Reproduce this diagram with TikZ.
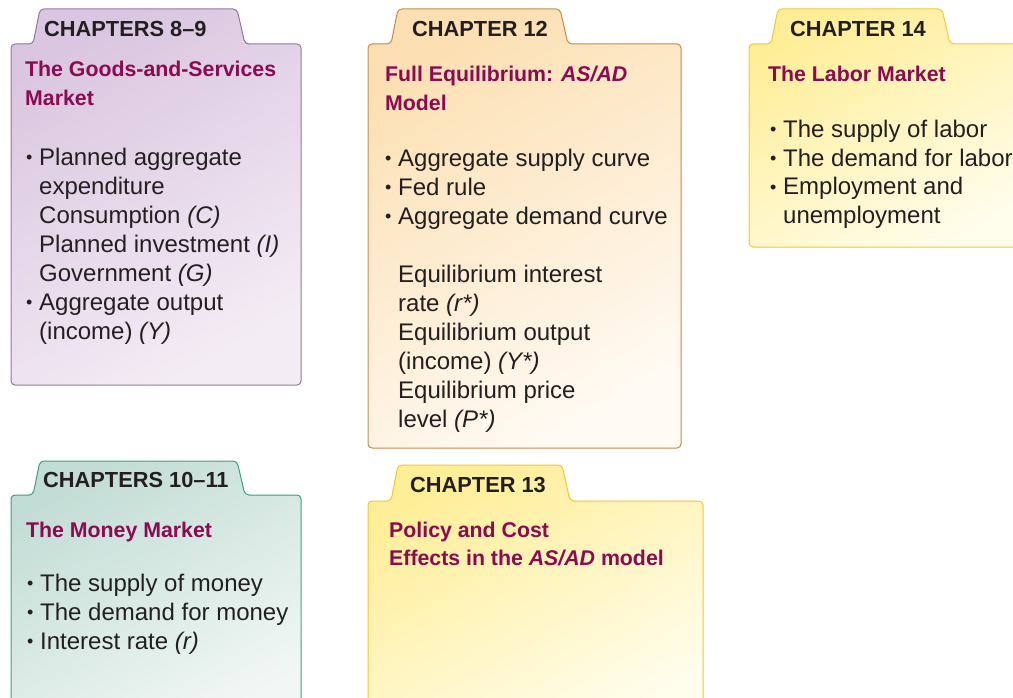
\documentclass[tikz,border=0pt]{standalone}
\usepackage{fontspec}
\setmainfont{Liberation Sans}
\usetikzlibrary{positioning}

\definecolor{titlered}{HTML}{8C0A52}
\definecolor{inkgrey}{HTML}{231F20}
\definecolor{purpleedge}{HTML}{8D7B9E}
\definecolor{purpletop}{HTML}{DAC6E0}
\definecolor{purplebot}{HTML}{F4ECF5}
\definecolor{orangeedge}{HTML}{C68A4B}
\definecolor{orangetop}{HTML}{FCE0B3}
\definecolor{orangebot}{HTML}{FFFAF3}
\definecolor{yellowedge}{HTML}{F4C633}
\definecolor{yellowtop}{HTML}{FFEE98}
\definecolor{yellowbot}{HTML}{FFFDEC}
\definecolor{tealedge}{HTML}{3E9E88}
\definecolor{tealtop}{HTML}{C2DDD5}
\definecolor{tealbot}{HTML}{F2F7F5}

\newcommand{\bul}{\makebox[13pt][l]{\raisebox{1.5pt}{\fontsize{18}{18}\selectfont\textbullet}}}
\newcommand{\ind}{\hspace*{13pt}}

\tikzset{
  folder/.style={line width=1pt, rounded corners=4pt},
  purplefolder/.style={folder, draw=purpleedge, top color=purpletop, bottom color=purplebot, shading angle=30},
  orangefolder/.style={folder, draw=orangeedge, top color=orangetop, bottom color=orangebot, shading angle=30},
  yellowfolder/.style={folder, draw=yellowedge, top color=yellowtop, bottom color=yellowbot, shading angle=30},
  tealfolder/.style={folder, draw=tealedge, top color=tealtop, bottom color=tealbot, shading angle=30},
  tabtext/.style={anchor=base west, inner sep=0pt, text=inkgrey, font=\bfseries\fontsize{21.8}{26}\selectfont},
  titletext/.style={anchor=base west, inner sep=0pt, align=left, text=titlered, font=\bfseries\fontsize{21.3}{28.5}\selectfont},
  listtext/.style={anchor=base west, inner sep=0pt, align=left, text=inkgrey, font=\fontsize{24}{29}\selectfont},
}

\begin{document}
\begin{tikzpicture}[x=1pt, y=-1pt]
  \useasboundingbox (0,0) rectangle (1013,698);

  % folders with their tabs
  \foreach \xl/\xr/\tl/\tr/\yt/\yb/\yz/\sty in {
      11/301/40/237/9/44/385/purplefolder,
      368/681/398/560/9/44/448/orangefolder,
      749/1040/778/942/9/44/247/yellowfolder,
      11/301/40/237/461/495/730/tealfolder,
      368/703/398/562/465/501/730/yellowfolder}
    \draw[\sty] (\xl,\yz) -- (\xl,\yb) -- (\tl-7,\yb) -- (\tl,\yt) -- (\tr,\yt)
      -- (\tr+8,\yb) -- (\xr,\yb) -- (\xr,\yz) -- cycle;

  % tabs
  \node[tabtext] (tab89) at (44,37) {CHAPTERS 8–9};
  \node[tabtext] (tab12) at (412,37) {CHAPTER 12};
  \node[tabtext] (tab14) at (790,37) {CHAPTER 14};
  \node[tabtext] (tab1011) at (43,487) {CHAPTERS 10–11};
  \node[tabtext] (tab13) at (410,492) {CHAPTER 13};

  % titles (placed at the baseline of their last line)
  \node[titletext] (goods) at (25,105.5) {The Goods-and-Services\\Market};
  \node[titletext] (full) at (385,110.5) {Full Equilibrium: \textit{AS/AD}\\Model};
  \node[titletext] (labor) at (768,82) {The Labor Market};
  \node[titletext] (money) at (26,537) {The Money Market};
  \node[titletext] (policy) at (389,565.5) {Policy and Cost\\Effects in the \textit{AS/AD} model};

  % lists (placed at the baseline of their last line)
  \node[listtext] (goodslist) at (26,339) {\bul Planned aggregate\\
    \ind expenditure\\
    \ind Consumption \textit{(C)}\\
    \ind Planned investment \textit{(I)}\\
    \ind Government \textit{(G)}\\
    \bul Aggregate output\\
    \ind (income) \textit{(Y)}};
  \node[listtext] (fulllist) at (385,427) {\bul Aggregate supply curve\\
    \bul Fed rule\\
    \bul Aggregate demand curve\\[29pt]
    \ind Equilibrium interest\\
    \ind rate \textit{(r*)}\\
    \ind Equilibrium output\\
    \ind (income) \textit{(Y*)}\\
    \ind Equilibrium price\\
    \ind level \textit{(P*)}};
  \node[listtext] (laborlist) at (770,224) {\bul The supply of labor\\
    \bul The demand for labor\\
    \bul Employment and\\
    \ind unemployment};
  \node[listtext] (moneylist) at (27,649) {\bul The supply of money\\
    \bul The demand for money\\
    \bul Interest rate \textit{(r)}};
\end{tikzpicture}
\end{document}
